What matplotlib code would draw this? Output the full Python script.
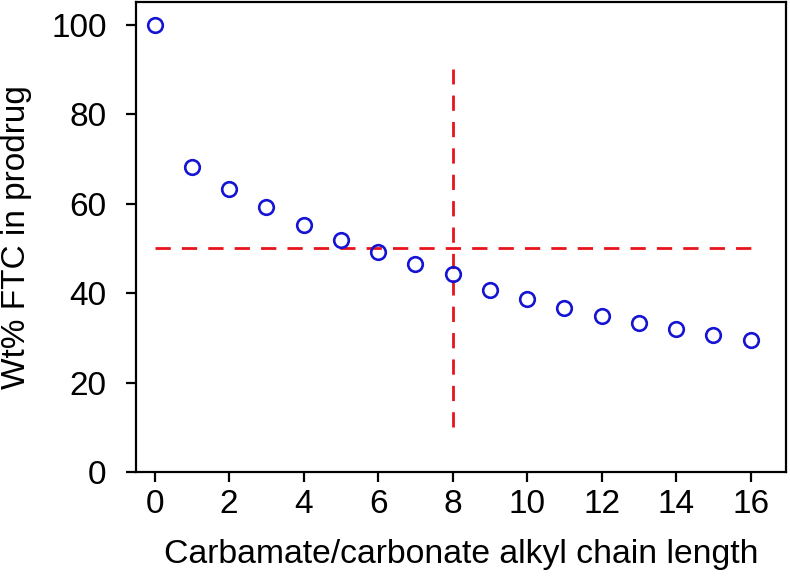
import numpy as np
import matplotlib
matplotlib.use("Agg")
import matplotlib.pyplot as plt

# chain length vs weight % of FTC in the prodrug
chain_length = [0, 1, 2, 3, 4, 5, 6, 7, 8, 9, 10, 11, 12, 13, 14, 15, 16]
wt_pct_ftc = [100.0, 68.1, 63.4, 59.2, 55.3, 52.0, 49.1, 46.6, 44.4,
              40.8, 38.7, 36.8, 35.0, 33.4, 32.0, 30.7, 29.5]

# guide lines
h_line_y = 50
h_line_x = [0, 16]
v_line_x = 8
v_line_y = [10, 90]

plt.rcParams['font.family'] = ['Liberation Sans', 'DejaVu Sans']
plt.rcParams['lines.scale_dashes'] = False

fig = plt.figure(figsize=(7.9, 5.83), dpi=100)
ax = fig.add_axes([0.172, 0.19, 0.823, 0.806])

dash = (0, (11, 8))
ax.plot(h_line_x, [h_line_y, h_line_y], color='#e8141c', lw=2, linestyle=dash)
ax.plot([v_line_x, v_line_x], v_line_y, color='#e8141c', lw=2, linestyle=dash)
ax.plot(chain_length, wt_pct_ftc, linestyle='none', marker='o', ms=10.5,
        mfc='none', mec='#1414d2', mew=1.9)

ax.set_xlim(-0.5, 16.95)
ax.set_ylim(0, 105)
ax.set_xticks(np.arange(0, 17, 2))
ax.set_yticks(np.arange(0, 101, 20))
ax.tick_params(labelsize=24, length=7, width=1.6)
ax.tick_params(axis='x', pad=5)
ax.tick_params(axis='y', pad=14)
for s in ax.spines.values():
    s.set_linewidth(1.6)

ax.set_xlabel('Carbamate/carbonate alkyl chain length', fontsize=24.3)
ax.set_ylabel('Wt% FTC in prodrug', fontsize=24)
ax.xaxis.set_label_coords(0.5, -0.142)
ax.yaxis.set_label_coords(-0.16, 0.5)

fig.savefig('out.png', dpi=100)
